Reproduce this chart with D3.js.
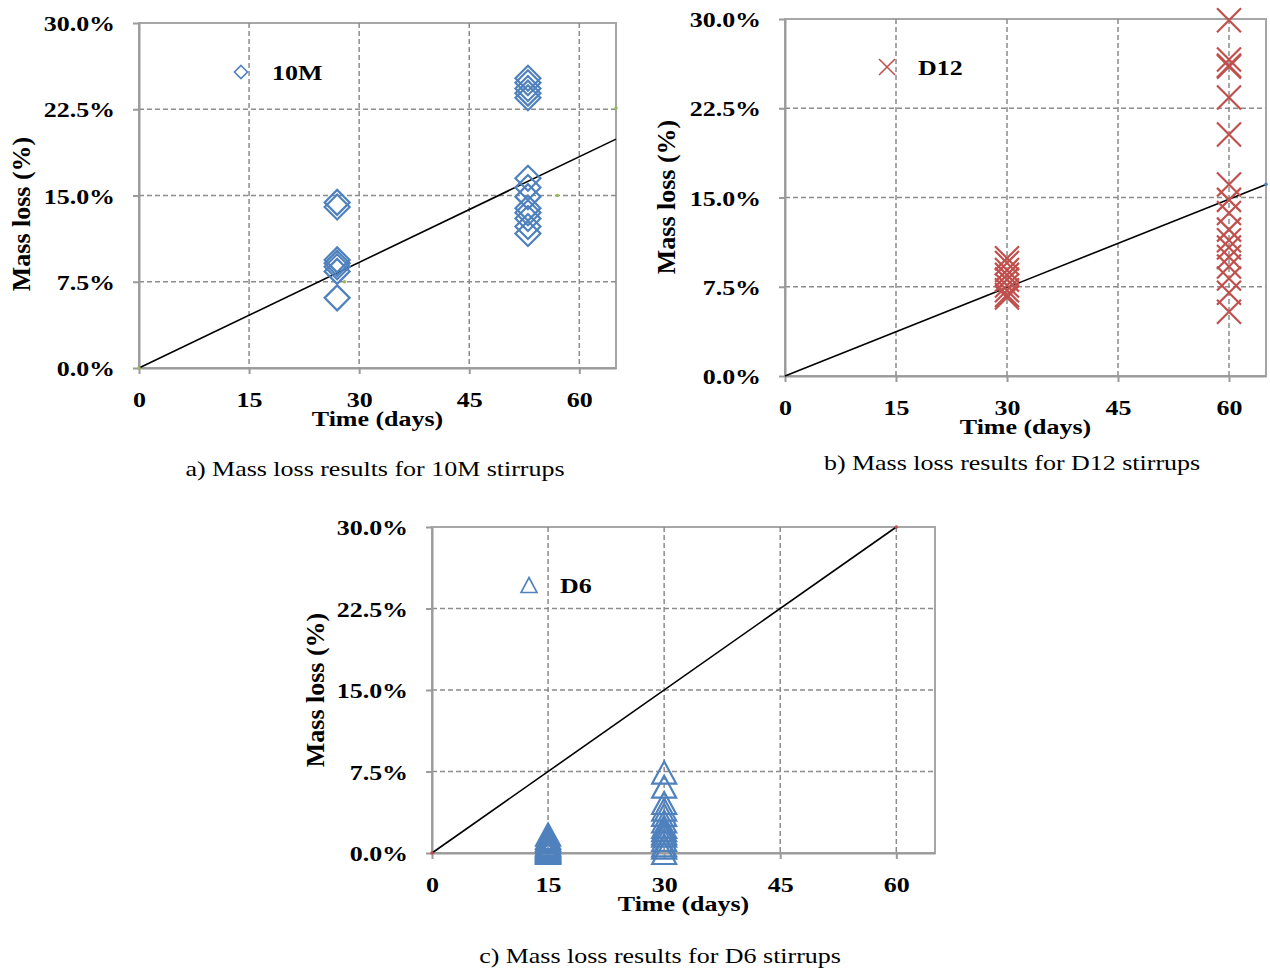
<!DOCTYPE html>
<html>
<head>
<meta charset="utf-8">
<script src="https://cdn.jsdelivr.net/npm/d3@7"></script>
<style>
  body { margin: 0; background: #fff; }
  text { font-family: "Liberation Serif", "Times New Roman", serif; fill: #000; }
</style>
</head>
<body>
<div id="chart"></div>
<script>
// values (days, mass loss %)
const yTicks = [0, 7.5, 15, 22.5, 30];
const xTicks = [0, 15, 30, 45, 60];

// a) 10M
const m10Days = [27, 27, 27, 27, 27, 27, 27,
  53, 53, 53, 53, 53, 53, 53, 53, 53, 53, 53, 53, 53];
const m10Loss = [14.4, 14.0, 9.4, 9.1, 8.8, 8.4, 6.1,
  25.2, 24.8, 24.3, 23.9, 23.5, 16.5, 15.7, 14.9, 13.9, 13.5, 13.0, 12.3, 11.7];
const m10Trend = [[0, 0], [65, 19.9]];
const m10Extra = [[0, 0], [28, 7.5], [57, 15], [65, 22.6]];

// b) D12
const d12Days = [30, 30, 30, 30, 30, 30, 30, 30, 30,
  60, 60, 60, 60, 60, 60, 60, 60, 60, 60, 60, 60, 60, 60, 60, 60, 60];
const d12Loss = [9.9, 9.5, 8.9, 8.5, 8.1, 7.6, 7.2, 6.8, 6.6,
  29.9, 26.6, 26.1, 26.0, 23.4, 20.3, 16.1, 14.8, 13.7, 12.3, 11.4, 10.8, 10.0, 9.2, 8.2, 7.0, 5.4];
const d12Trend = [[0, 0], [65, 16.1]];
const d12Extra = [[65, 16.1]];

// c) D6
const d6Days = [15, 15, 15, 15, 15, 15, 15, 15, 15, 15, 15, 15, 15,
  30, 30, 30, 30, 30, 30, 30, 30, 30, 30, 30, 30, 30, 30];
const d6Loss = [0.0, 0.1, 0.2, 0.3, 0.4, 0.5, 0.6, 0.7, 0.8, 1.0, 1.2, 1.4, 1.7,
  7.4, 6.1, 4.6, 4.0, 3.5, 2.9, 2.4, 2.1, 1.8, 1.6, 1.2, 0.7, 0.5, 0.0];
const d6Trend = [[0, 0], [60, 30]];
const d6Extra = [[0, 0], [60, 30]];

const BLUE = "#4f81bd", RED = "#c0504d", GREEN = "#9bbb59";
const SX = 1.18; // text in the source is stretched sideways

const svg = d3.select("#chart").append("svg")
  .attr("width", 1270).attr("height", 970);

// marker shapes
function diamond(r) {
  const p = d3.path();
  p.moveTo(0, -r); p.lineTo(r, 0); p.lineTo(0, r); p.lineTo(-r, 0); p.closePath();
  return p.toString();
}
function cross(r) {
  const p = d3.path();
  p.moveTo(-r, -r); p.lineTo(r, r); p.moveTo(-r, r); p.lineTo(r, -r);
  return p.toString();
}
function triangle(w, h) {
  const p = d3.path();
  p.moveTo(0, -h / 2); p.lineTo(w / 2, h / 2); p.lineTo(-w / 2, h / 2); p.closePath();
  return p.toString();
}

function label(g, x, y, s, opts) {
  opts = opts || {};
  let tr = `translate(${x},${y})`;
  if (opts.rotate) tr += ` rotate(${opts.rotate})`;
  else tr += ` scale(${SX},1)`;
  return g.append("text")
    .attr("transform", tr)
    .attr("text-anchor", opts.anchor || "start")
    .style("font-size", (opts.size || 22) + "px")
    .style("font-weight", opts.bold === false ? "normal" : "bold")
    .text(s);
}

function drawPanel(cfg) {
  const x = d3.scaleLinear().domain([0, cfg.xMax]).range([cfg.left, cfg.right]);
  const y = d3.scaleLinear().domain([0, 30]).range([cfg.bottom, cfg.top]);
  const g = svg.append("g");

  // plot frame
  g.append("rect")
    .attr("x", cfg.left).attr("y", cfg.top)
    .attr("width", cfg.right - cfg.left).attr("height", cfg.bottom - cfg.top)
    .attr("fill", "none").attr("stroke", "#a6a6a6").attr("stroke-width", 2);

  // dashed grid
  g.selectAll(".gx").data(xTicks.filter(d => d > 0)).join("line")
    .attr("x1", d => x(d)).attr("x2", d => x(d))
    .attr("y1", cfg.top).attr("y2", cfg.bottom)
    .attr("stroke", "#8c8c8c").attr("stroke-width", 1.5).attr("stroke-dasharray", "5,3");
  g.selectAll(".gy").data(yTicks.filter(d => d > 0 && d < 30)).join("line")
    .attr("x1", cfg.left).attr("x2", cfg.right)
    .attr("y1", d => y(d)).attr("y2", d => y(d))
    .attr("stroke", "#8c8c8c").attr("stroke-width", 1.5).attr("stroke-dasharray", "5,3");

  // axes
  const ax = g.append("g").attr("transform", `translate(0,${cfg.bottom})`)
    .call(d3.axisBottom(x).tickValues(xTicks).tickSize(6).tickSizeOuter(0).tickPadding(17.5).tickFormat(d3.format("d")));
  const ay = g.append("g").attr("transform", `translate(${cfg.left},0)`)
    .call(d3.axisLeft(y).tickValues(yTicks).tickSize(6).tickSizeOuter(0).tickPadding(14.3).tickFormat(d => d.toFixed(1) + "%"));
  [ax, ay].forEach(a => {
    a.select(".domain").attr("stroke", "#9a9a9a").attr("stroke-width", 2);
    a.selectAll(".tick line").attr("stroke", "#9a9a9a").attr("stroke-width", 2);
    a.selectAll("text")
      .attr("fill", "#000")
      .style("font-family", "'Liberation Serif', serif")
      .style("font-size", "22px").style("font-weight", "bold");
  });
  ax.selectAll("text").attr("transform", `scale(${SX},1)`);
  ay.selectAll("text").attr("transform", `scale(${SX},1)`).attr("dy", "0.35em");

  // trend line
  const line = d3.line().x(d => x(d[0])).y(d => y(d[1]));
  g.append("path").attr("d", line(cfg.trend))
    .attr("fill", "none").attr("stroke", "#000").attr("stroke-width", 1.6);

  // tiny extra points
  g.selectAll(".ex").data(cfg.extra).join("circle")
    .attr("cx", d => x(d[0])).attr("cy", d => y(d[1])).attr("r", 1.8)
    .attr("fill", cfg.extraColor);

  // data markers
  const pts = cfg.days.map((d, i) => [d, cfg.loss[i]]);
  g.selectAll(".pt").data(pts).join("path")
    .attr("transform", d => `translate(${x(d[0])},${y(d[1])})`)
    .attr("d", cfg.shape)
    .attr("fill", "none").attr("stroke", cfg.color).attr("stroke-width", 2.2);

  // legend
  g.append("path")
    .attr("transform", `translate(${cfg.legend[0]},${cfg.legend[1]})`)
    .attr("d", cfg.legendShape)
    .attr("fill", "none").attr("stroke", cfg.color).attr("stroke-width", 1.6);
  label(g, cfg.legend[0] + 31, cfg.legend[1] + 8, cfg.name);

  // titles
  label(g, (cfg.left + cfg.right) / 2, cfg.bottom + 58, "Time (days)", { anchor: "middle" });
  label(g, cfg.yTitle[0], cfg.yTitle[1], "Mass loss (%)", { anchor: "middle", rotate: -90, size: 26 });
  label(g, cfg.caption[0], cfg.caption[1], cfg.captionText, { anchor: "middle", bold: false });
}

drawPanel({
  left: 139, right: 616, top: 23, bottom: 368, xMax: 65,
  days: m10Days, loss: m10Loss, trend: m10Trend, extra: m10Extra, extraColor: GREEN,
  color: BLUE, shape: diamond(12.5), legendShape: diamond(6.5),
  legend: [241, 72], name: "10M",
  yTitle: [30, 214], caption: [375, 476],
  captionText: "a) Mass loss results for 10M stirrups"
});
drawPanel({
  left: 785, right: 1266, top: 19, bottom: 376, xMax: 65,
  days: d12Days, loss: d12Loss, trend: d12Trend, extra: d12Extra, extraColor: BLUE,
  color: RED, shape: cross(12), legendShape: cross(8),
  legend: [887, 67], name: "D12",
  yTitle: [675, 197], caption: [1012, 470],
  captionText: "b) Mass loss results for D12 stirrups"
});
drawPanel({
  left: 432, right: 935, top: 527, bottom: 853, xMax: 65,
  days: d6Days, loss: d6Loss, trend: d6Trend, extra: d6Extra, extraColor: RED,
  color: BLUE, shape: triangle(24, 22), legendShape: triangle(16, 15),
  legend: [529, 585], name: "D6",
  yTitle: [324, 690], caption: [660, 963],
  captionText: "c) Mass loss results for D6 stirrups"
});
</script>
</body>
</html>
